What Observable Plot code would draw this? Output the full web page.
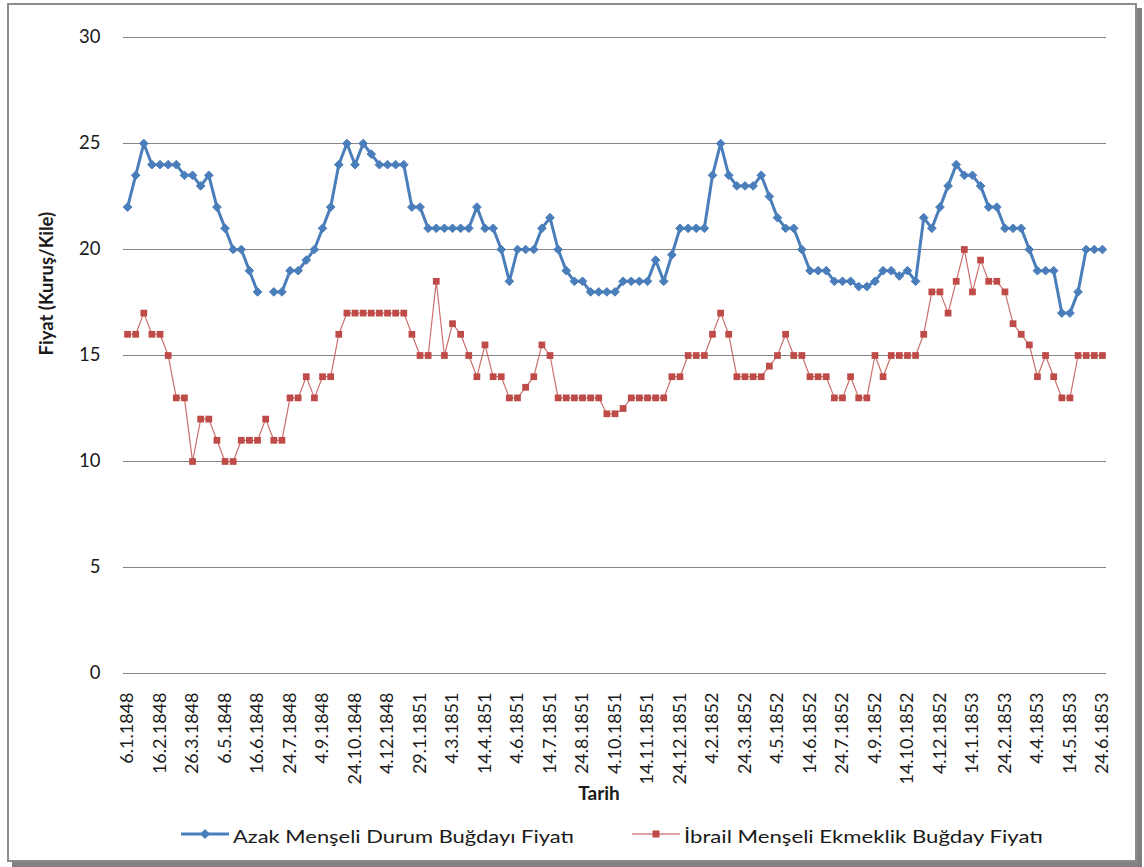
<!DOCTYPE html>
<html>
<head>
<meta charset="utf-8">
<script src="https://cdn.jsdelivr.net/npm/d3@7"></script>
<script src="https://cdn.jsdelivr.net/npm/@observablehq/plot@0.6"></script>
<style>
  body { margin: 0; background: #fff; font-family: Lato, "Open Sans", sans-serif; }
  #frame { position: absolute; left: 7px; top: 3px; width: 1126px; height: 855px;
           border: 2px solid #8c8c8c; box-shadow: 5px 5px 0 #808080; background: #fff; }
  #chart { position: absolute; left: 0; top: 0; }
  #legend { position: absolute; left: 0; top: 819px; width: 1144px; height: 32px; }
</style>
</head>
<body>
<div id="frame"></div>
<div id="chart"></div>
<div id="legend"></div>
<script>
// Every 4th category label (121 observations in total)
const tickLabels = ["6.1.1848","16.2.1848","26.3.1848","6.5.1848","16.6.1848","24.7.1848","4.9.1848",
  "24.10.1848","4.12.1848","29.1.1851","4.3.1851","14.4.1851","4.6.1851","14.7.1851","24.8.1851",
  "4.10.1851","14.11.1851","24.12.1851","4.2.1852","24.3.1852","4.5.1852","14.6.1852","24.7.1852",
  "4.9.1852","14.10.1852","4.12.1852","14.1.1853","24.2.1853","4.4.1853","14.5.1853","24.6.1853"];

const seriesNames = ["Azak Menşeli Durum Buğdayı Fiyatı", "İbrail Menşeli Ekmeklik Buğday Fiyatı"];

const azak = [22,23.5,25,24,24,24,24,23.5,23.5,23,23.5,22,21,20,20,19,18,null,18,18,
  19,19,19.5,20,21,22,24,25,24,25,24.5,24,24,24,24,22,22,21,21,21,
  21,21,21,22,21,21,20,18.5,20,20,20,21,21.5,20,19,18.5,18.5,18,18,18,
  18,18.5,18.5,18.5,18.5,19.5,18.5,19.75,21,21,21,21,23.5,25,23.5,23,23,23,23.5,22.5,
  21.5,21,21,20,19,19,19,18.5,18.5,18.5,18.25,18.25,18.5,19,19,18.75,19,18.5,21.5,21,
  22,23,24,23.5,23.5,23,22,22,21,21,21,20,19,19,19,17,17,18,20,20,20];

const ibrail = [16,16,17,16,16,15,13,13,10,12,12,11,10,10,11,11,11,12,11,11,
  13,13,14,13,14,14,16,17,17,17,17,17,17,17,17,16,15,15,18.5,15,
  16.5,16,15,14,15.5,14,14,13,13,13.5,14,15.5,15,13,13,13,13,13,13,12.25,
  12.25,12.5,13,13,13,13,13,14,14,15,15,15,16,17,16,14,14,14,14,14.5,
  15,16,15,15,14,14,14,13,13,14,13,13,15,14,15,15,15,15,16,18,
  18,17,18.5,20,18,19.5,18.5,18.5,18,16.5,16,15.5,14,15,14,13,13,15,15,15,15];

const yTicks = [0, 5, 10, 15, 20, 25, 30];
const tickIdx = tickLabels.map((_, k) => k * 4);

const blueColor = "#4A7EBB", redColor = "#BE4B48";
const azakData = azak.map((v, i) => ({i, v}));
const ibrailData = ibrail.map((v, i) => ({i, v}));

const chart = Plot.plot({
  width: 1144, height: 815,
  marginLeft: 123, marginRight: 38, marginTop: 37, marginBottom: 142,
  style: {fontFamily: "Lato, 'Open Sans', sans-serif", color: "#1a1a1a", background: "transparent"},
  x: {domain: [-0.5, azak.length - 0.5], axis: null},
  y: {domain: [0, 30], axis: null},
  marks: [
    Plot.gridY(yTicks, {stroke: "#868686", strokeOpacity: 1, strokeWidth: 1}),
    Plot.axisY(yTicks, {tickSize: 0, tickPadding: 23, fontSize: 18.5, label: null}),
    Plot.axisX(tickIdx, {tickSize: 0, tickPadding: 19, tickRotate: -90, fontSize: 18, label: null,
      textAnchor: "end", tickFormat: d => tickLabels[d / 4]}),
    Plot.text(["Fiyat (Kuruş/Kile)"], {frameAnchor: "left", dx: -76, rotate: -90,
      fontSize: 18.5, fontWeight: "bold", fill: "#1a1a1a"}),
    Plot.text(["Tarih"], {frameAnchor: "bottom", dx: -16, dy: 126,
      fontSize: 19, fontWeight: "bold", fill: "#1a1a1a"}),
    Plot.line(ibrailData, {x: "i", y: "v", stroke: redColor, strokeWidth: 1.2, strokeOpacity: 0.8}),
    Plot.dot(ibrailData.filter(d => d.v != null), {x: "i", y: "v", symbol: "square", r: 3.8,
      fill: redColor, stroke: "none"}),
    Plot.line(azakData, {x: "i", y: "v", stroke: blueColor, strokeWidth: 3}),
    Plot.dot(azakData.filter(d => d.v != null), {x: "i", y: "v", symbol: "diamond2", r: 3.9,
      fill: blueColor, stroke: blueColor, strokeWidth: 1})
  ]
});
document.getElementById("chart").appendChild(chart);

// Legend (below the plot)
const ns = "http://www.w3.org/2000/svg";
const lsvg = document.createElementNS(ns, "svg");
lsvg.setAttribute("width", 1144);
lsvg.setAttribute("height", 32);
const items = [
  {left: 181, textLen: 341, color: blueColor, width: 3,
   marker: `<path d="M205,10 L210,15 L205,20 L200,15 Z" fill="${blueColor}"/>`},
  {left: 632, textLen: 359, color: redColor, width: 1.2,
   marker: `<rect x="652.5" y="11.5" width="7" height="7" fill="${redColor}"/>`}
];
let html = "";
items.forEach((it, k) => {
  html += `<line x1="${it.left}" x2="${it.left + 48}" y1="15" y2="15" stroke="${it.color}" stroke-width="${it.width}"/>`;
  html += it.marker;
  html += `<text x="${it.left + 52}" y="23.5" font-size="18" fill="#1a1a1a" font-family="Lato, 'Open Sans', sans-serif" textLength="${it.textLen}" lengthAdjust="spacingAndGlyphs">${seriesNames[k]}</text>`;
});
lsvg.innerHTML = html;
document.getElementById("legend").appendChild(lsvg);
</script>
</body>
</html>
